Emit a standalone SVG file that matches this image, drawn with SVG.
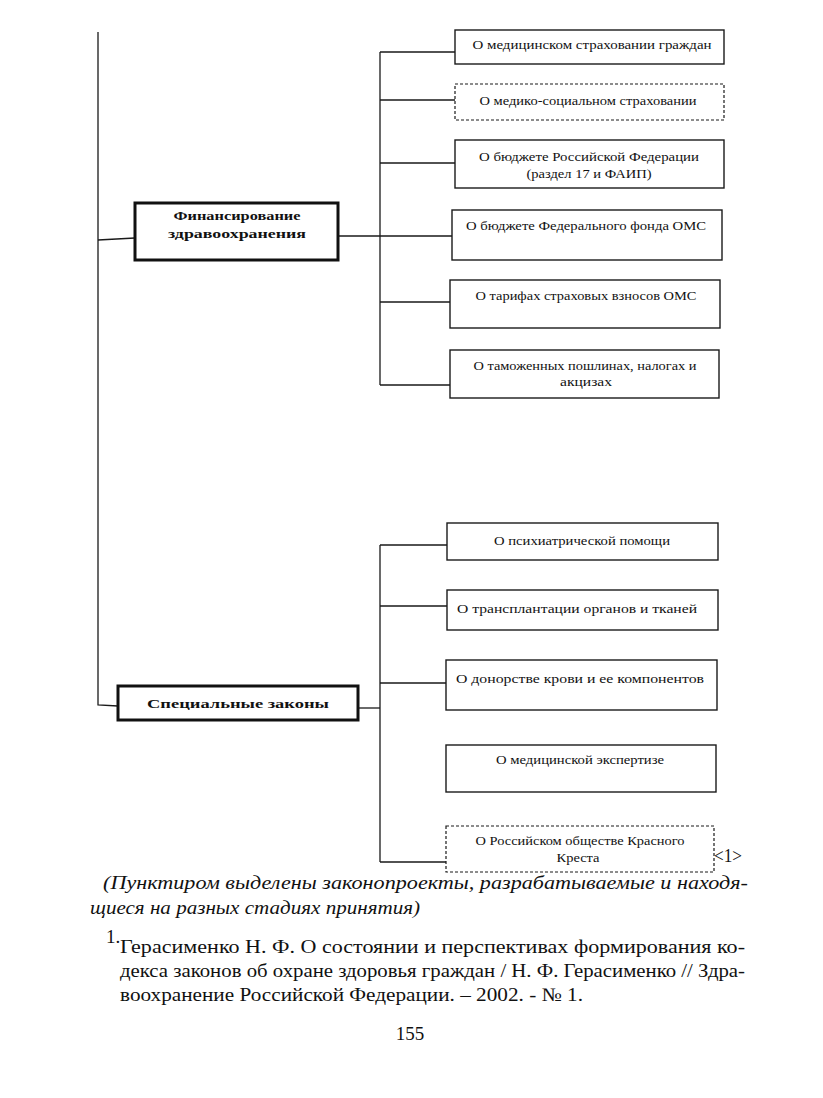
<svg xmlns="http://www.w3.org/2000/svg" width="823" height="1098" viewBox="0 0 823 1098">
<style>
.bg{fill:#fff}
.ln{stroke:#1a1a1a;stroke-width:1.3;fill:none}
.box{fill:#fff;stroke:#1a1a1a;stroke-width:1.4}
.dash{fill:#fff;stroke:#1a1a1a;stroke-width:1.2;stroke-dasharray:3,2}
.thick{fill:#fff;stroke:#111;stroke-width:3}
.t{font-family:"Liberation Serif",serif;font-size:13px;fill:#111;text-anchor:middle}
.b{font-family:"Liberation Serif",serif;font-size:13px;font-weight:bold;fill:#111;text-anchor:middle}
.it{font-family:"Liberation Serif",serif;font-size:19px;font-style:italic;fill:#111}
.ft{font-family:"Liberation Serif",serif;font-size:19px;fill:#111}
</style>
<rect class="bg" x="0" y="0" width="823" height="1098"/>
<g id="connectors">
<path class="ln" d="M98,32 L98,705 L118,706"/>
<path class="ln" d="M98,240 L135,238"/>
<path class="ln" d="M338,236 L380,236"/>
<path class="ln" d="M380,52 L380,385"/>
<path class="ln" d="M380,52 L455,52 M380,100 L455,100 M380,163 L455,163 M380,236 L452,236 M380,302 L450,302 M380,385 L450,385"/>
<path class="ln" d="M358,708 L380,708"/>
<path class="ln" d="M380,545 L380,862"/>
<path class="ln" d="M380,545 L447,545 M380,606 L447,606 M380,683 L446,683 M380,862 L446,862"/>
</g>
<g id="fin">
<rect class="thick" x="135" y="203" width="203" height="57"/>
<text class="b" x="237" y="220" textLength="127" lengthAdjust="spacingAndGlyphs">Финансирование</text>
<text class="b" x="237" y="238" textLength="138" lengthAdjust="spacingAndGlyphs">здравоохранения</text>
</g>
<g id="n1">
<rect class="box" x="455" y="30" width="269" height="34"/>
<text class="t" x="592" y="49" textLength="239" lengthAdjust="spacingAndGlyphs">О медицинском страховании граждан</text>
</g>
<g id="n2">
<rect class="dash" x="455" y="84" width="269" height="36"/>
<text class="t" x="588" y="105" textLength="217" lengthAdjust="spacingAndGlyphs">О медико-социальном страховании</text>
</g>
<g id="n3">
<rect class="box" x="455" y="140" width="269" height="48"/>
<text class="t" x="589" y="161" textLength="220" lengthAdjust="spacingAndGlyphs">О бюджете Российской Федерации</text>
<text class="t" x="589" y="178" textLength="125" lengthAdjust="spacingAndGlyphs">(раздел 17 и ФАИП)</text>
</g>
<g id="n4">
<rect class="box" x="452" y="210" width="270" height="50"/>
<text class="t" x="586" y="230" textLength="240" lengthAdjust="spacingAndGlyphs">О бюджете Федерального фонда ОМС</text>
</g>
<g id="n5">
<rect class="box" x="450" y="280" width="270" height="48"/>
<text class="t" x="586" y="300" textLength="221" lengthAdjust="spacingAndGlyphs">О тарифах страховых взносов ОМС</text>
</g>
<g id="n6">
<rect class="box" x="450" y="350" width="269" height="48"/>
<text class="t" x="585" y="370" textLength="223" lengthAdjust="spacingAndGlyphs">О таможенных пошлинах, налогах и</text>
<text class="t" x="586" y="386" textLength="52" lengthAdjust="spacingAndGlyphs">акцизах</text>
</g>
<g id="spec">
<rect class="thick" x="118" y="686" width="240" height="34"/>
<text class="b" x="238" y="708" textLength="182" lengthAdjust="spacingAndGlyphs">Специальные законы</text>
</g>
<g id="s1">
<rect class="box" x="447" y="523" width="271" height="37"/>
<text class="t" x="582" y="545" textLength="176" lengthAdjust="spacingAndGlyphs">О психиатрической помощи</text>
</g>
<g id="s2">
<rect class="box" x="447" y="590" width="271" height="40"/>
<text class="t" x="577" y="613" textLength="240" lengthAdjust="spacingAndGlyphs">О трансплантации органов и тканей</text>
</g>
<g id="s3">
<rect class="box" x="446" y="660" width="271" height="50"/>
<text class="t" x="580" y="683" textLength="248" lengthAdjust="spacingAndGlyphs">О донорстве крови и ее компонентов</text>
</g>
<g id="s4">
<rect class="box" x="446" y="745" width="270" height="47"/>
<text class="t" x="580" y="764" textLength="168" lengthAdjust="spacingAndGlyphs">О медицинской экспертизе</text>
</g>
<g id="s5">
<rect class="dash" x="446" y="826" width="268" height="46"/>
<text class="t" x="580" y="845" textLength="209" lengthAdjust="spacingAndGlyphs">О Российском обществе Красного</text>
<text class="t" x="578" y="862" textLength="43" lengthAdjust="spacingAndGlyphs">Креста</text>
</g>
<text class="ft" x="714" y="862" font-size="15" textLength="28" lengthAdjust="spacingAndGlyphs">&lt;1&gt;</text>
<g id="caption">
<text class="it" x="103" y="889" textLength="645" lengthAdjust="spacingAndGlyphs">(Пунктиром выделены законопроекты, разрабатываемые и находя-</text>
<text class="it" x="90" y="914" textLength="330" lengthAdjust="spacingAndGlyphs">щиеся на разных стадиях принятия)</text>
</g>
<g id="footnote">
<text class="ft" x="106" y="943" font-size="13">1.</text>
<text class="ft" x="120" y="953" textLength="625" lengthAdjust="spacingAndGlyphs">Герасименко Н. Ф. О состоянии и перспективах формирования ко-</text>
<text class="ft" x="120" y="977" textLength="625" lengthAdjust="spacingAndGlyphs">декса законов об охране здоровья граждан / Н. Ф. Герасименко // Здра-</text>
<text class="ft" x="120" y="1001" textLength="463" lengthAdjust="spacingAndGlyphs">воохранение Российской Федерации. – 2002. -  № 1.</text>
</g>
<text class="ft" x="410" y="1040" font-size="21" text-anchor="middle">155</text>
</svg>
